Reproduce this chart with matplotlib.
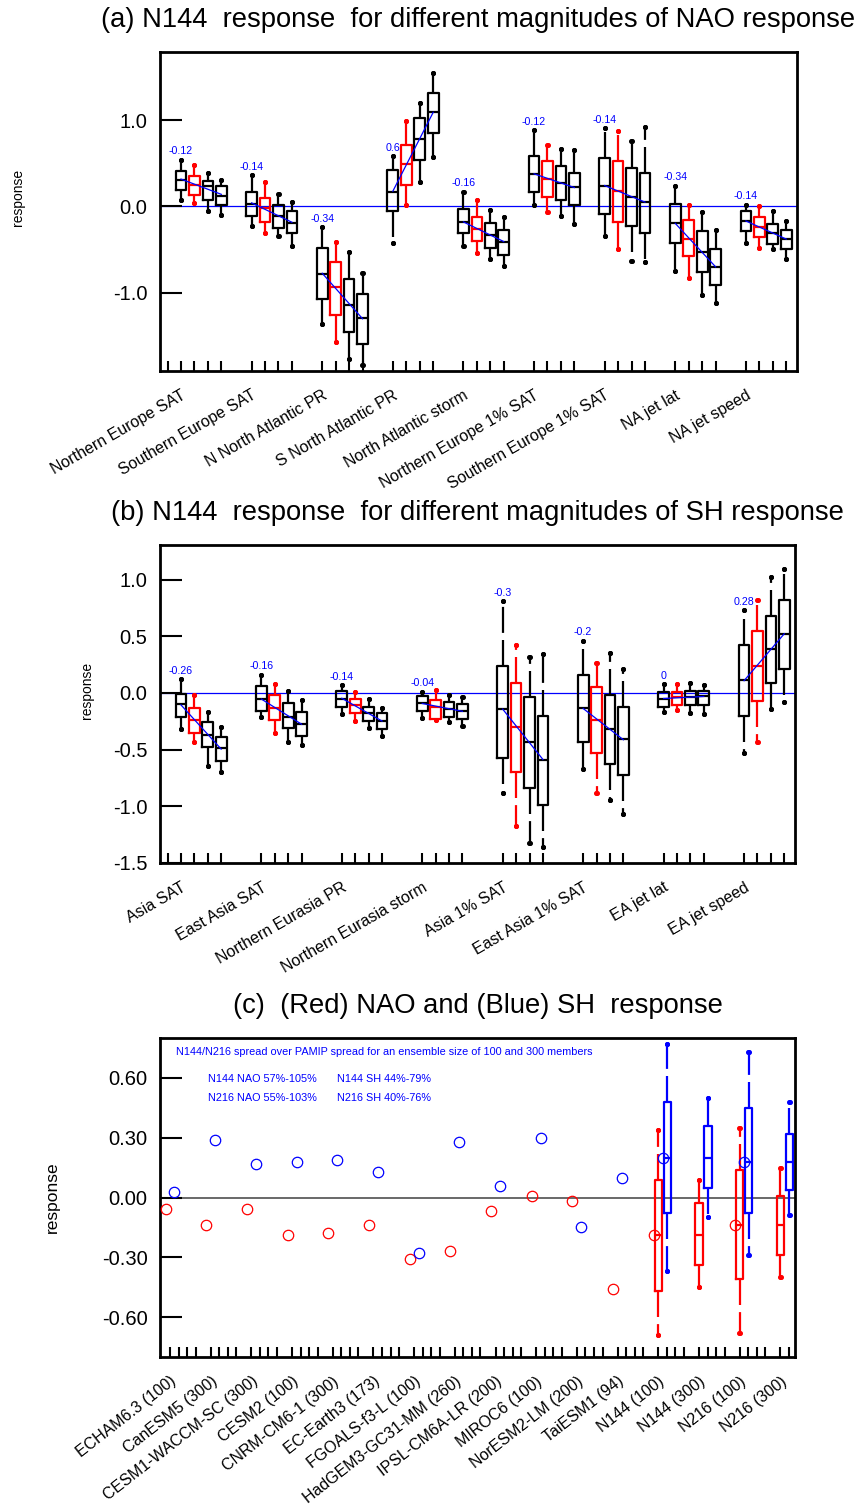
import numpy as np
import matplotlib
matplotlib.use('Agg')
import matplotlib.pyplot as plt
from matplotlib.ticker import NullFormatter

plt.rcParams['font.family'] = ['Liberation Sans', 'DejaVu Sans']

# ---------------- panel (a): NAO-related indices ----------------
nao_names = ['Northern Europe SAT', 'Southern Europe SAT', 'N North Atlantic PR',
             'S North Atlantic PR', 'North Atlantic storm', 'Northern Europe 1% SAT',
             'Southern Europe 1% SAT', 'NA jet lat', 'NA jet speed']
nao_max = [[0.54, 0.48, 0.39, 0.31], [0.36, 0.28, 0.14, 0.05], [-0.24, -0.41, -0.53, -0.77],
           [0.58, 0.99, 1.20, 1.55], [0.17, 0.07, -0.04, -0.12], [0.88, 0.71, 0.67, 0.65],
           [0.91, 0.87, 0.76, 0.92], [0.24, 0.01, -0.07, -0.27], [0.02, 0.00, -0.05, -0.17]]
nao_q3 = [[0.41, 0.35, 0.29, 0.23], [0.17, 0.10, 0.02, -0.05], [-0.48, -0.64, -0.84, -1.02],
          [0.42, 0.71, 1.02, 1.32], [-0.03, -0.12, -0.19, -0.27], [0.58, 0.52, 0.47, 0.39],
          [0.56, 0.53, 0.45, 0.39], [0.03, -0.16, -0.29, -0.49], [-0.05, -0.12, -0.21, -0.27]]
nao_med = [[0.31, 0.25, 0.23, 0.12], [0.03, -0.02, -0.11, -0.19], [-0.78, -0.94, -1.14, -1.30],
           [0.17, 0.49, 0.78, 1.09], [-0.18, -0.26, -0.33, -0.41], [0.38, 0.32, 0.27, 0.22],
           [0.24, 0.18, 0.11, 0.05], [-0.19, -0.38, -0.53, -0.70], [-0.17, -0.24, -0.31, -0.38]]
nao_q1 = [[0.19, 0.13, 0.07, 0.02], [-0.11, -0.18, -0.25, -0.31], [-1.08, -1.26, -1.46, -1.60],
          [-0.05, 0.25, 0.54, 0.85], [-0.31, -0.40, -0.48, -0.56], [0.17, 0.11, 0.07, 0.02],
          [-0.09, -0.18, -0.23, -0.31], [-0.42, -0.58, -0.76, -0.91], [-0.29, -0.36, -0.44, -0.50]]
nao_min = [[0.07, 0.04, -0.05, -0.10], [-0.23, -0.31, -0.34, -0.46], [-1.36, -1.57, -1.77, -1.84],
           [-0.43, 0.02, 0.28, 0.57], [-0.46, -0.54, -0.61, -0.69], [0.02, -0.07, -0.11, -0.21],
           [-0.34, -0.49, -0.63, -0.65], [-0.75, -0.83, -1.03, -1.12], [-0.42, -0.48, -0.50, -0.61]]
nao_slope = [-0.12, -0.14, -0.34, 0.6, -0.16, -0.12, -0.14, -0.34, -0.14]

# ---------------- panel (b): SH-related indices ----------------
sh_names = ['Asia SAT', 'East Asia SAT', 'Northern Eurasia PR', 'Northern Eurasia storm',
            'Asia 1% SAT', 'East Asia 1% SAT', 'EA jet lat', 'EA jet speed']
sh_max = [[0.12, -0.02, -0.17, -0.30], [0.16, 0.08, 0.02, -0.06], [0.07, 0.01, -0.05, -0.13],
          [0.01, 0.03, -0.02, -0.04], [0.81, 0.42, 0.32, 0.34], [0.46, 0.26, 0.35, 0.21],
          [0.08, 0.08, 0.09, 0.07], [0.73, 0.82, 1.02, 1.09]]
sh_q3 = [[-0.01, -0.13, -0.26, -0.39], [0.06, -0.02, -0.09, -0.17], [0.02, -0.05, -0.12, -0.18],
         [-0.03, -0.06, -0.08, -0.10], [0.24, 0.09, -0.04, -0.20], [0.16, 0.05, -0.02, -0.12],
         [0.01, 0.01, 0.02, 0.02], [0.42, 0.55, 0.68, 0.82]]
sh_med = [[-0.10, -0.24, -0.37, -0.49], [-0.05, -0.13, -0.21, -0.27], [-0.05, -0.11, -0.18, -0.25],
          [-0.09, -0.12, -0.14, -0.16], [-0.14, -0.30, -0.43, -0.59], [-0.13, -0.24, -0.32, -0.41],
          [-0.05, -0.04, -0.04, -0.03], [0.11, 0.24, 0.39, 0.52]]
sh_q1 = [[-0.21, -0.35, -0.48, -0.60], [-0.16, -0.24, -0.31, -0.38], [-0.12, -0.18, -0.25, -0.32],
         [-0.16, -0.23, -0.21, -0.23], [-0.57, -0.70, -0.84, -0.99], [-0.43, -0.53, -0.63, -0.72],
         [-0.12, -0.11, -0.11, -0.11], [-0.20, -0.07, 0.09, 0.21]]
sh_min = [[-0.32, -0.43, -0.64, -0.70], [-0.21, -0.35, -0.43, -0.46], [-0.19, -0.25, -0.31, -0.38],
          [-0.22, -0.24, -0.26, -0.29], [-0.88, -1.17, -1.32, -1.36], [-0.67, -0.88, -0.94, -1.07],
          [-0.17, -0.15, -0.18, -0.19], [-0.53, -0.43, -0.14, -0.08]]
sh_slope = [-0.26, -0.16, -0.14, -0.04, -0.3, -0.2, 0, 0.28]

# ---------------- panel (c): models ----------------
models = ['ECHAM6.3 (100)', 'CanESM5 (300)', 'CESM1-WACCM-SC (300)', 'CESM2 (100)',
          'CNRM-CM6-1 (300)', 'EC-Earth3 (173)', 'FGOALS-f3-L (100)', 'HadGEM3-GC31-MM (260)',
          'IPSL-CM6A-LR (200)', 'MIROC6 (100)', 'NorESM2-LM (200)', 'TaiESM1 (94)',
          'N144 (100)', 'N144 (300)', 'N216 (100)', 'N216 (300)']
nan = np.nan
nao_dot = [-0.06, -0.14, -0.06, -0.19, -0.18, -0.14, -0.31, -0.27,
           -0.07, 0.01, -0.02, -0.46, -0.19, nan, -0.14, nan]
sh_dot = [0.03, 0.29, 0.17, 0.18, 0.19, 0.13, -0.28, 0.28,
          0.06, 0.30, -0.15, 0.10, 0.20, nan, 0.18, nan]
box_models = [12, 13, 14, 15]
c_nao_max = [0.34, 0.09, 0.35, 0.15]
c_nao_q3 = [0.09, -0.03, 0.14, 0.01]
c_nao_med = [-0.19, -0.19, -0.14, -0.14]
c_nao_q1 = [-0.47, -0.34, -0.41, -0.29]
c_nao_min = [-0.69, -0.45, -0.68, -0.40]
c_sh_max = [0.77, 0.50, 0.73, 0.48]
c_sh_q3 = [0.48, 0.36, 0.45, 0.32]
c_sh_med = [0.20, 0.20, 0.18, 0.18]
c_sh_q1 = [-0.08, 0.05, -0.08, 0.04]
c_sh_min = [-0.37, -0.10, -0.29, -0.09]

# ---------------- styling ----------------
LW = 1.6
WHISK_LS = (0, (11.7, 3.2))
box_colors = ['black', 'red', 'black', 'black']


def draw_box(ax, x, lo, q1, med, q3, hi, color, width):
    stats = [dict(med=med, q1=q1, q3=q3, whislo=lo, whishi=hi)]
    ax.bxp(stats, positions=[x], widths=width, capwidths=0.01, showfliers=False,
           manage_ticks=False,
           boxprops=dict(color=color, lw=LW),
           medianprops=dict(color=color, lw=LW),
           whiskerprops=dict(color=color, lw=LW, ls=WHISK_LS, dash_capstyle='butt'),
           capprops=dict(color=color, ls='none', marker='o', ms=2.6))


def style_axes(ax, rot, lsize):
    for s in ax.spines.values():
        s.set_linewidth(2)
    ax.xaxis.remove_overlapping_locs = False
    ax.tick_params(axis='y', which='major', direction='in', length=15.8, width=1.5,
                   labelsize=14.5, pad=9, right=False)
    ax.tick_params(axis='x', which='major', direction='in', length=7.2, width=1.5, top=False)
    ax.tick_params(axis='x', which='minor', length=0, pad=12, labelsize=lsize)
    ax.xaxis.set_major_formatter(NullFormatter())
    plt.setp(ax.get_xticklabels(minor=True), rotation=rot, ha='right', va='top',
             rotation_mode='anchor')


def group_panel(ax, names, q_max, q3, med, q1, q_min, slopes, step, title):
    pos = np.array([[g * step + j for j in range(4)] for g in range(len(names))], dtype=float)
    for g in range(len(names)):
        for j in range(4):
            draw_box(ax, pos[g][j], q_min[g][j], q1[g][j], med[g][j], q3[g][j], q_max[g][j],
                     box_colors[j], 0.8)
        k, b = np.polyfit(pos[g], med[g], 1)
        ends = pos[g][[0, 3]]
        ax.plot(ends, k * ends + b, color='blue', lw=0.9, zorder=5)
        ax.annotate(f'{slopes[g]:g}', (pos[g][0], q_max[g][0]), xytext=(0, 6),
                    textcoords='offset points', ha='center', va='center',
                    color='blue', fontsize=7.7)
    ax.axhline(0, color='blue', lw=0.9, zorder=1)
    ax.set_xlim(-1.56, 45.8)
    ax.set_xticks(np.concatenate([[pos[0][0] - 1], pos.ravel()]))
    ax.set_xticks(pos[:, 0], names, minor=True)
    style_axes(ax, 30, 11.5)
    ax.text(0.5, 1.10, title, transform=ax.transAxes, ha='center', va='center', fontsize=19.7)


fig = plt.figure(figsize=(8.57, 15.05), dpi=100)
W, H = 857.0, 1505.0
ax_a = fig.add_axes([160 / W, 1 - 371 / H, 637 / W, 319 / H])
ax_b = fig.add_axes([160 / W, 1 - 863 / H, 635 / W, 318 / H])
ax_c = fig.add_axes([160 / W, 1 - 1357 / H, 635 / W, 319 / H])

# (a)
group_panel(ax_a, nao_names, nao_max, nao_q3, nao_med, nao_q1, nao_min, nao_slope, 5.25,
            '(a) N144  response  for different magnitudes of NAO response')
ax_a.set_ylim(-1.91, 1.79)
ax_a.set_yticks([1.0, 0.0, -1.0], ['1.0', '0.0', '-1.0'])

# (b)
group_panel(ax_b, sh_names, sh_max, sh_q3, sh_med, sh_q1, sh_min, sh_slope, 6,
            '(b) N144  response  for different magnitudes of SH response')
ax_b.set_ylim(-1.5, 1.305)
ax_b.set_yticks([1.0, 0.5, 0.0, -0.5, -1.0, -1.5], ['1.0', '0.5', '0.0', '-0.5', '-1.0', '-1.5'])

# (c)
idx = np.arange(len(models), dtype=float)
ax_c.plot(idx - 0.11, nao_dot, 'o', mfc='none', mec='red', ms=7.5, mew=0.9, zorder=4)
ax_c.plot(idx + 0.11, sh_dot, 'o', mfc='none', mec='blue', ms=7.5, mew=0.9, zorder=4)
for n, i in enumerate(box_models):
    draw_box(ax_c, idx[i], c_nao_min[n], c_nao_q1[n], c_nao_med[n], c_nao_q3[n],
             c_nao_max[n], 'red', 0.18)
    draw_box(ax_c, idx[i] + 0.22, c_sh_min[n], c_sh_q1[n], c_sh_med[n], c_sh_q3[n],
             c_sh_max[n], 'blue', 0.18)
ax_c.axhline(0, color='#404040', lw=1.1, zorder=1)
ax_c.set_xlim(-0.246, 15.36)
ax_c.set_ylim(-0.8, 0.8)
cticks = (idx[:, None] + np.arange(4) * 0.21).ravel()
ax_c.set_xticks(cticks[cticks < 15.36])
ax_c.set_xticks(idx, models, minor=True)
ax_c.set_yticks([0.6, 0.3, 0.0, -0.3, -0.6], ['0.60', '0.30', '0.00', '-0.30', '-0.60'])
style_axes(ax_c, 38, 11.5)
ax_c.text(0.5, 1.10, '(c)  (Red) NAO and (Blue) SH  response', transform=ax_c.transAxes,
          ha='center', va='center', fontsize=19.7)
ax_c.text(0.0247, 0.957, 'N144/N216 spread over PAMIP spread for an ensemble size of 100 and 300 members',
          transform=ax_c.transAxes, ha='left', va='center', color='blue', fontsize=7.8)
ax_c.text(0.0751, 0.8715, 'N144 NAO 57%-105%', transform=ax_c.transAxes, ha='left',
          va='center', color='blue', fontsize=7.8)
ax_c.text(0.2783, 0.8715, 'N144 SH 44%-79%', transform=ax_c.transAxes, ha='left',
          va='center', color='blue', fontsize=7.8)
ax_c.text(0.0751, 0.811, 'N216 NAO 55%-103%', transform=ax_c.transAxes, ha='left',
          va='center', color='blue', fontsize=7.8)
ax_c.text(0.2783, 0.811, 'N216 SH 40%-76%', transform=ax_c.transAxes, ha='left',
          va='center', color='blue', fontsize=7.8)

# y labels
fig.text(18 / W, 1 - 197 / H, 'response', rotation=90, ha='center', va='center', fontsize=10)
fig.text(87 / W, 1 - 690 / H, 'response', rotation=90, ha='center', va='center', fontsize=10)
fig.text(52 / W, 1 - 1197 / H, 'response', rotation=90, ha='center', va='center', fontsize=12.5)

fig.savefig('out.png', dpi=100)
